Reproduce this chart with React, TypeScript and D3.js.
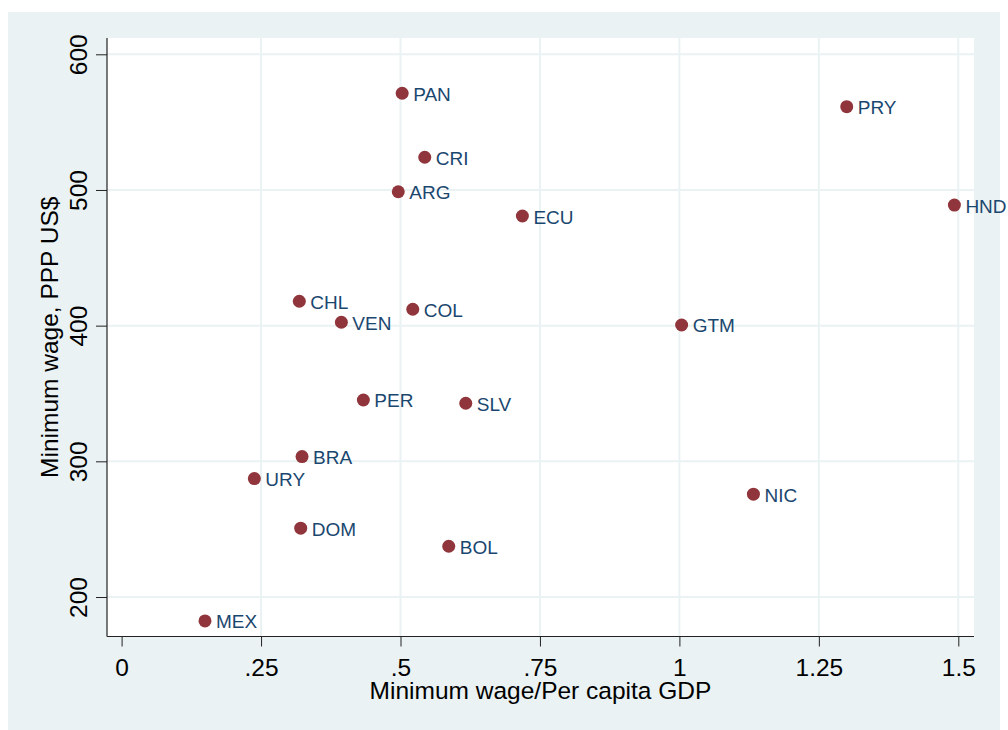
import * as d3 from "d3";
import React from "react";

// country codes and values
const codes = ["PAN", "PRY", "CRI", "ARG", "HND", "ECU", "CHL", "COL", "VEN", "GTM", "PER", "SLV", "BRA", "URY", "NIC", "DOM", "BOL", "MEX"];
const wageRatio = [0.503, 1.3, 0.5435, 0.496, 1.493, 0.7185, 0.3186, 0.522, 0.394, 1.004, 0.4334, 0.617, 0.3235, 0.238, 1.1327, 0.3211, 0.5865, 0.1495];
const minWage = [571.3, 561.4, 524.1, 498.7, 488.9, 480.8, 418.0, 412.1, 402.5, 400.5, 345.2, 342.8, 303.5, 287.3, 275.8, 250.7, 237.4, 182.4];

const xTicks = [0, 0.25, 0.5, 0.75, 1, 1.25, 1.5];
const yTicks = [200, 300, 400, 500, 600];

const xTitle = "Minimum wage/Per capita GDP";
const yTitle = "Minimum wage, PPP US$";

export default function App() {
  const ref = React.useRef(null);

  React.useEffect(() => {
    const W = 1008;
    const H = 730;
    const plot = { left: 107, right: 974, top: 38, bottom: 636.5 };
    const bg = "#eaf2f3";
    const font = "'Liberation Sans', Arial, sans-serif";

    ref.current.innerHTML = "";
    const svg = d3
      .select(ref.current)
      .append("svg")
      .attr("width", W)
      .attr("height", H)
      .style("display", "block")
      .style("font-family", font);

    // outer graph region
    svg.append("rect").attr("x", 8).attr("y", 12).attr("width", 992).attr("height", 718).attr("fill", bg);

    // plot region
    svg
      .append("rect")
      .attr("x", plot.left)
      .attr("y", plot.top)
      .attr("width", plot.right - plot.left)
      .attr("height", plot.bottom - plot.top)
      .attr("fill", "#fff");

    const x = d3.scaleLinear().domain([0, 1.5]).range([121.6, 958.3]);
    const y = d3.scaleLinear().domain([200, 600]).range([597, 54.3]);

    // gridlines
    svg
      .append("g")
      .selectAll("line")
      .data(yTicks)
      .join("line")
      .attr("x1", plot.left)
      .attr("x2", plot.right)
      .attr("y1", (d) => y(d))
      .attr("y2", (d) => y(d))
      .attr("stroke", bg)
      .attr("stroke-width", 2);
    svg
      .append("g")
      .selectAll("line")
      .data(xTicks.filter((d) => d > 0))
      .join("line")
      .attr("x1", (d) => x(d))
      .attr("x2", (d) => x(d))
      .attr("y1", plot.top)
      .attr("y2", plot.bottom)
      .attr("stroke", bg)
      .attr("stroke-width", 2);

    // y axis
    const gy = svg
      .append("g")
      .attr("transform", `translate(${plot.left},0)`)
      .call(d3.axisLeft(y).tickValues(yTicks).tickSize(11).tickSizeOuter(0));
    gy.select(".domain").remove();
    gy.selectAll(".tick line").attr("stroke", "#222");
    gy.selectAll(".tick text")
      .attr("x", 0)
      .attr("dy", 0)
      .attr("transform", "translate(-20,0) rotate(-90)")
      .attr("text-anchor", "middle")
      .attr("fill", "#000")
      .style("font-size", "24.5px")
      .style("font-family", font);

    // x axis
    const gx = svg
      .append("g")
      .attr("transform", `translate(0,${plot.bottom})`)
      .call(
        d3
          .axisBottom(x)
          .tickValues(xTicks)
          .tickSize(10)
          .tickSizeOuter(0)
          .tickFormat((d) => String(d).replace(/^0\./, "."))
      );
    gx.select(".domain").remove();
    gx.selectAll(".tick line").attr("stroke", "#222");
    gx.selectAll(".tick text")
      .attr("y", 39)
      .attr("dy", 0)
      .attr("fill", "#000")
      .style("font-size", "24.5px")
      .style("font-family", font);

    // axis lines
    svg
      .append("line")
      .attr("x1", plot.left)
      .attr("x2", plot.left)
      .attr("y1", plot.top)
      .attr("y2", plot.bottom)
      .attr("stroke", "#222")
      .attr("stroke-width", 1.2);
    svg
      .append("line")
      .attr("x1", plot.left)
      .attr("x2", plot.right)
      .attr("y1", plot.bottom)
      .attr("y2", plot.bottom)
      .attr("stroke", "#222")
      .attr("stroke-width", 1.2);

    // markers and labels
    const pts = codes.map((c, i) => ({ code: c, rx: wageRatio[i], wage: minWage[i] }));
    const g = svg.append("g");
    g.selectAll("circle")
      .data(pts)
      .join("circle")
      .attr("cx", (d) => x(d.rx))
      .attr("cy", (d) => y(d.wage))
      .attr("r", 6.5)
      .attr("fill", "#90353b");
    g.selectAll("text")
      .data(pts)
      .join("text")
      .attr("x", (d) => x(d.rx) + 11)
      .attr("y", (d) => y(d.wage) + 7.5)
      .attr("fill", "#1a476f")
      .style("font-size", "19px")
      .text((d) => d.code);

    // axis titles
    svg
      .append("text")
      .attr("x", (plot.left + plot.right) / 2)
      .attr("y", 699)
      .attr("text-anchor", "middle")
      .style("font-size", "24.5px")
      .text(xTitle);
    svg
      .append("text")
      .attr("transform", `translate(58,${(plot.top + plot.bottom) / 2}) rotate(-90)`)
      .attr("text-anchor", "middle")
      .style("font-size", "24.5px")
      .text(yTitle);
  }, []);

  return <div ref={ref} style={{ position: "absolute", left: 0, top: 0 }}></div>;
}
